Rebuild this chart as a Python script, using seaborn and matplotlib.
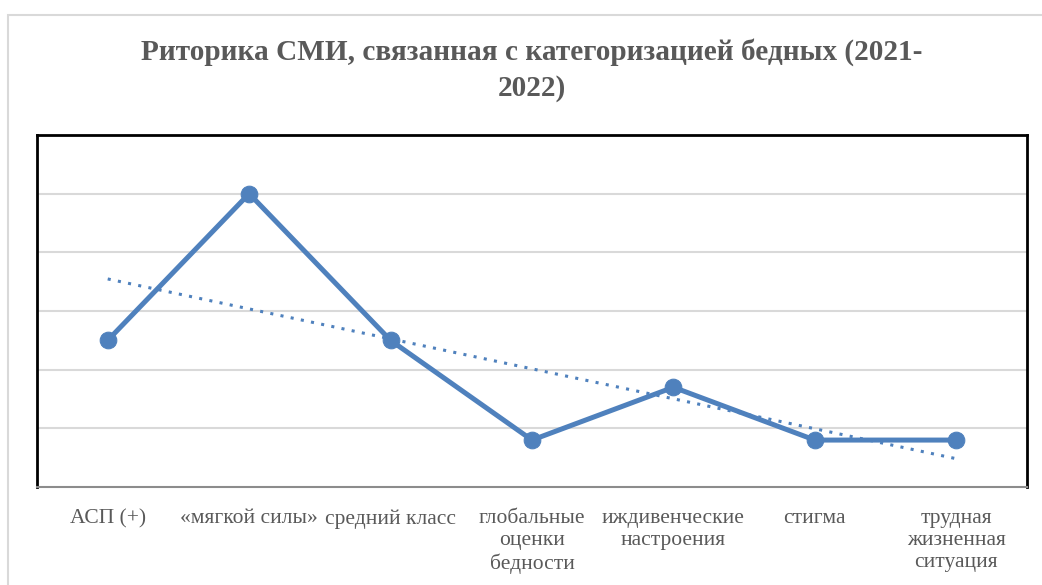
import matplotlib
matplotlib.use("Agg")
import matplotlib.pyplot as plt
import seaborn as sns
import numpy as np
import pandas as pd
from matplotlib.patches import Rectangle

# categories and values (percent-like units, gridlines every 10)
categories = ["АСП (+)", "«мягкой силы»", "средний класс",
              "глобальные\nоценки\nбедности", "иждивенческие\nнастроения",
              "стигма", "трудная\nжизненная\nситуация"]
values = [25, 50, 25, 8, 17, 8, 8]

df = pd.DataFrame({"pos": np.arange(len(categories)), "value": values})

sns.set_style("white")
plt.rcParams['font.family'] = ['Liberation Serif', 'DejaVu Serif']

blue = "#4f81bd"
grey_text = "#595959"

fig = plt.figure(figsize=(10.42, 5.85), dpi=100)

# outer light grey chart frame
fig.patches.append(Rectangle((8 / 1042, -0.1), 1.2, (585 - 15) / 585 + 0.1,
                             transform=fig.transFigure, fill=False,
                             edgecolor="#d9d9d9", linewidth=1.5))

ax = fig.add_axes([37 / 1042, (585 - 487) / 585, 990 / 1042, 352 / 585])

# grid lines
for g in range(10, 60, 10):
    ax.axhline(g, color="#d9d9d9", linewidth=1.5, zorder=0)

sns.lineplot(data=df, x="pos", y="value", ax=ax, color=blue, linewidth=3.6,
             marker="o", markersize=12, markeredgecolor=blue, zorder=3)

# linear trend line
coef = np.polyfit(df["pos"], df["value"], 1)
trend = np.polyval(coef, df["pos"])
ax.plot(df["pos"], trend, color=blue, linewidth=2.2, linestyle=(0, (1, 2.4)),
        zorder=2)

ax.set_xlim(-0.5, len(categories) - 0.5)
ax.set_ylim(0, 60)
ax.set_yticks([])
ax.set_xticks(df["pos"])
ax.set_xticklabels(categories, fontsize=15.5, color=grey_text, linespacing=1.2)
ax.tick_params(axis="x", length=0, pad=16)
ax.set_xlabel("")
ax.set_ylabel("")

for side in ["left", "top", "right"]:
    ax.spines[side].set_color("black")
    ax.spines[side].set_linewidth(2)
    ax.spines[side].set_visible(True)
ax.spines["bottom"].set_color("#8c8c8c")
ax.spines["bottom"].set_linewidth(1.5)
ax.spines["bottom"].set_visible(True)

fig.text(532 / 1042, 1 - 70 / 585,
         "Риторика СМИ, связанная с категоризацией бедных (2021-\n2022)",
         ha="center", va="center", fontsize=21.1, fontweight="bold",
         color=grey_text, linespacing=1.38)

fig.savefig("out.png", dpi=100)
